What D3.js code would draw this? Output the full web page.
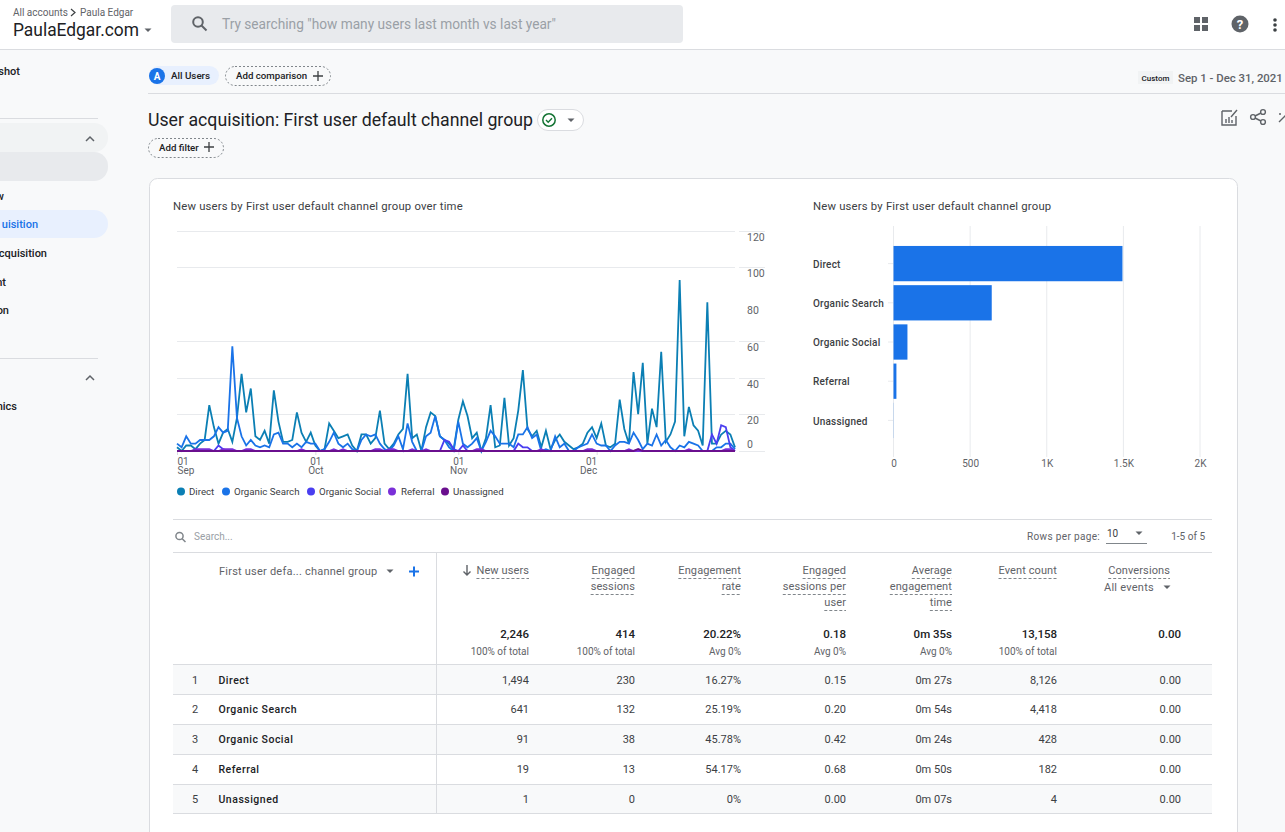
<!DOCTYPE html>
<html>
<head>
<meta charset="utf-8">
<title>User acquisition</title>
<script src="https://cdn.jsdelivr.net/npm/d3@7"></script>
<style>
html, body { margin: 0; padding: 0; background: #f8f9fa; overflow: hidden; }
text { font-family: Roboto, sans-serif; }
</style>
</head>
<body>
<div id="page"></div>
<script>
var direct = [2, 0, 3, 3, 1, 4, 6, 25, 13, 4, 10, 12, 5, 18, 42, 21, 34, 8, 6, 11,
    4, 33, 16, 5, 5, 6, 21, 10, 5, 10, 3, 0, 1, 15, 11, 7, 8, 9, 3, 0,
    9, 9, 4, 7, 22, 4, 1, 4, 9, 12, 42, 7, 9, 0, 13, 21, 19, 8, 6, 4,
    1, 17, 27, 19, 7, 10, 0, 7, 25, 2, 3, 29, 3, 7, 22, 44, 12, 8, 11, 2,
    11, 1, 6, 9, 5, 3, 1, 2, 4, 10, 13, 7, 15, 3, 2, 4, 28, 12, 4, 43,
    20, 48, 4, 23, 13, 54, 5, 9, 16, 93, 8, 24, 14, 11, 3, 81, 4, 4, 9, 11,
    9, 2];
var organicSearch = [4, 2, 8, 4, 4, 6, 6, 6, 8, 13, 10, 11, 57, 18, 8, 3, 6, 3, 2, 3,
    2, 9, 10, 4, 4, 2, 4, 2, 5, 4, 4, 0, 1, 5, 10, 4, 2, 4, 1, 0,
    6, 9, 8, 9, 4, 1, 0, 3, 8, 1, 15, 5, 0, 0, 8, 10, 19, 8, 6, 2,
    0, 16, 4, 2, 4, 7, 0, 5, 11, 8, 4, 4, 4, 2, 9, 9, 13, 7, 9, 0,
    1, 0, 8, 2, 4, 0, 0, 2, 3, 4, 9, 4, 3, 3, 0, 3, 5, 5, 4, 10,
    6, 1, 4, 3, 9, 3, 6, 2, 0, 3, 2, 5, 4, 3, 0, 0, 0, 2, 2, 4,
    4, 1];
var organicSocial = [0, 0, 0, 0, 0, 0, 0, 0, 0, 3, 1, 0, 0, 0, 0, 0, 0, 0, 0, 0,
    0, 0, 0, 0, 0, 0, 0, 0, 0, 0, 0, 0, 0, 0, 0, 0, 0, 0, 0, 0,
    0, 0, 0, 0, 0, 0, 0, 0, 0, 0, 0, 0, 0, 0, 0, 0, 0, 0, 6, 5,
    1, 0, 3, 0, 0, 0, 0, 0, 0, 0, 0, 0, 0, 0, 4, 2, 2, 0, 0, 0,
    0, 0, 0, 0, 0, 0, 0, 0, 0, 0, 0, 0, 0, 0, 0, 0, 0, 0, 0, 0,
    0, 0, 0, 0, 0, 0, 0, 0, 0, 0, 0, 0, 0, 0, 0, 0, 9, 4, 14, 13,
    2, 0];
var referral = [0, 0, 0, 0, 1, 1, 1, 1, 0, 0, 1, 1, 1, 0, 0, 1, 1, 0, 0, 0,
    0, 0, 0, 0, 0, 0, 0, 1, 0, 0, 0, 0, 0, 0, 1, 0, 1, 0, 0, 0,
    0, 0, 0, 1, 1, 0, 1, 1, 0, 0, 0, 1, 0, 0, 1, 0, 0, 0, 0, 0,
    0, 0, 0, 0, 0, 1, 1, 0, 0, 0, 0, 0, 0, 0, 0, 0, 0, 0, 0, 1,
    0, 0, 0, 0, 0, 0, 0, 0, 0, 1, 1, 0, 0, 0, 0, 0, 0, 0, 1, 0,
    0, 0, 0, 0, 0, 0, 0, 0, 0, 0, 0, 1, 0, 0, 0, 0, 0, 0, 0, 1,
    1, 0];
var unassigned = direct.map(function() { return 0; });
unassigned[100] = 1;

var channels = ["Direct", "Organic Search", "Organic Social", "Referral", "Unassigned"];
var channelColors = ["#0b7fb4", "#1a73e8", "#4a3ef0", "#7a2fd8", "#6a0f8e"];
var seriesValues = [direct, organicSearch, organicSocial, referral, unassigned];
var barValues = [1494, 641, 91, 19, 1];

var lineTicks = [0, 20, 40, 60, 80, 100, 120];
var lineGridTicks = [0, 20, 40, 60, 100, 120];
var barTicks = [0, 500, 1000, 1500, 2000];
var barTickLabels = ["0", "500", "1K", "1.5K", "2K"];
var monthTicks = [new Date(Date.UTC(2021, 8, 1)), new Date(Date.UTC(2021, 9, 1)),
    new Date(Date.UTC(2021, 10, 1)), new Date(Date.UTC(2021, 11, 1))];
var monthLabels = ["Sep", "Oct", "Nov", "Dec"];

var columnHeaders = [["New users"], ["Engaged", "sessions"], ["Engagement", "rate"],
    ["Engaged", "sessions per", "user"], ["Average", "engagement", "time"], ["Event count"], ["Conversions"]];
var totals = ["2,246", "414", "20.22%", "0.18", "0m 35s", "13,158", "0.00"];
var totalNotes = ["100% of total", "100% of total", "Avg 0%", "Avg 0%", "Avg 0%", "100% of total", ""];
var tableRows = [
    ["1,494", "230", "16.27%", "0.15", "0m 27s", "8,126", "0.00"],
    ["641", "132", "25.19%", "0.20", "0m 54s", "4,418", "0.00"],
    ["91", "38", "45.78%", "0.42", "0m 24s", "428", "0.00"],
    ["19", "13", "54.17%", "0.68", "0m 50s", "182", "0.00"],
    ["1", "0", "0%", "0.00", "0m 07s", "4", "0.00"]
];
var columnRight = [529, 635, 741, 846, 952, 1057, 1181];
var rowLines = [664, 694, 724, 754, 784, 813];

var svg = d3.select("#page")
    .append("svg")
    .attr("width", 1285)
    .attr("height", 832)
    .style("display", "block");

function rect(x, y, w, h, fill, rx) {
    return svg.append("rect")
        .attr("x", x).attr("y", y)
        .attr("width", w).attr("height", h)
        .attr("rx", rx || 0)
        .attr("fill", fill);
}

function hline(x1, x2, y, color) {
    return svg.append("line")
        .attr("x1", x1).attr("x2", x2)
        .attr("y1", y).attr("y2", y)
        .attr("stroke", color);
}

function label(x, y, s, size, color, anchor, weight) {
    return svg.append("text")
        .attr("x", x).attr("y", y)
        .attr("text-anchor", anchor || "start")
        .attr("font-size", size)
        .attr("font-weight", weight || 400)
        .attr("fill", color)
        .text(s);
}

function icon(d, color, width, fill) {
    return svg.append("path")
        .attr("d", d)
        .attr("fill", fill || "none")
        .attr("stroke", color)
        .attr("stroke-width", width);
}

function chip(x, y, w, h) {
    return rect(x + 0.5, y + 0.5, w, h, "none", h / 2)
        .attr("stroke", "#80868b")
        .attr("stroke-dasharray", "2,2");
}

function caret(x, y, color) {
    icon("M" + (x - 3.5) + " " + (y - 1.5) + "h7l-3.5 3.5z", "none", 0, color);
}

// top bar
rect(0, 0, 1285, 49, "#ffffff");
hline(0, 1285, 49.5, "#dadce0");
label(13, 16, "All accounts", 10, "#5f6368");
icon("M71 9l4 3.5-4 3.5", "#3c4043", 1.2);
label(80, 16, "Paula Edgar", 10, "#5f6368");
label(13, 36, "PaulaEdgar.com", 18.5, "#202124")
    .attr("textLength", 126).attr("lengthAdjust", "spacingAndGlyphs");
caret(148, 30, "#5f6368");
rect(171, 5, 512, 38, "#e8eaed", 4);
svg.append("circle").attr("cx", 198).attr("cy", 22).attr("r", 4.8)
    .attr("fill", "none").attr("stroke", "#5f6368").attr("stroke-width", 2);
icon("M201.5 25.5l5 5", "#5f6368", 2);
label(222, 29, "Try searching \"how many users last month vs last year\"", 14, "#9aa0a6")
    .attr("textLength", 334).attr("lengthAdjust", "spacingAndGlyphs");
rect(1194, 17, 6, 6, "#5f6368");
rect(1202, 17, 6, 6, "#5f6368");
rect(1194, 25, 6, 6, "#5f6368");
rect(1202, 25, 6, 6, "#5f6368");
svg.append("circle").attr("cx", 1240).attr("cy", 24).attr("r", 8.5).attr("fill", "#5f6368");
label(1240, 29, "?", 13, "#ffffff", "middle", 700);
[20, 25, 30].forEach(function(y) {
    svg.append("circle").attr("cx", 1275).attr("cy", y).attr("r", 1.8).attr("fill", "#3c4043");
});

// side navigation
hline(0, 98, 118.5, "#dadce0");
hline(0, 98, 358.5, "#dadce0");
rect(-20, 123, 128, 29, "#f1f3f4", 14);
rect(-20, 152, 128, 29, "#e8eaed", 14);
rect(-20, 210, 128, 28, "#e8f0fe", 14);
icon("M86 141l4-4 4 4", "#5f6368", 1.5);
icon("M86 380l4-4 4 4", "#5f6368", 1.5);
label(20, 75, "shot", 11, "#202124", "end", 500);
label(4, 200, "w", 11, "#202124", "end", 500);
label(38, 228, "uisition", 11, "#1a73e8", "end", 500);
label(47, 257, "cquisition", 11, "#202124", "end", 500);
label(6, 286, "nt", 11, "#202124", "end", 500);
label(9, 314, "on", 11, "#202124", "end", 500);
label(17, 410, "nics", 11, "#202124", "end", 500);

// filter strip
rect(149, 66, 70, 19, "#e8f0fe", 9.5);
svg.append("circle").attr("cx", 157).attr("cy", 76).attr("r", 8).attr("fill", "#1a73e8");
label(157, 80, "A", 10, "#ffffff", "middle", 700);
label(171, 79, "All Users", 9.8, "#202124", "start", 500);
chip(225, 66, 105, 19);
label(236, 79, "Add comparison", 9.7, "#202124", "start", 500);
icon("M313 76h10M318 71v10", "#3c4043", 1.3);
hline(148, 1285, 93.5, "#dadce0");
rect(1138, 71, 35, 13, "#f1f3f4");
label(1155.5, 81, "Custom", 8, "#202124", "middle", 500);
label(1178, 82, "Sep 1 - Dec 31, 2021", 11.4, "#5f6368", "start", 500);

// title row
label(148, 126, "User acquisition: First user default channel group", 18.5, "#202124")
    .attr("textLength", 385).attr("lengthAdjust", "spacingAndGlyphs");
rect(537.5, 109.5, 46, 21, "#ffffff", 10.5).attr("stroke", "#dadce0");
svg.append("circle").attr("cx", 549).attr("cy", 120).attr("r", 6.2)
    .attr("fill", "none").attr("stroke", "#137333").attr("stroke-width", 1.5);
icon("M546 120l2.2 2.2 3.8-4", "#137333", 1.4);
caret(571, 120, "#5f6368");
chip(148, 138, 75, 19);
label(159, 151, "Add filter", 9.7, "#202124", "start", 500);
icon("M204 147h10M209 142v10", "#3c4043", 1.3);
icon("M1222 111h10M1222 111v14h14v-9M1226 123v-4M1229 123v-6M1232 123v-3M1231 117l6-7", "#5f6368", 1.4);
svg.append("g").selectAll("circle").data([[1253, 117], [1263, 112], [1263, 122]]).enter()
    .append("circle")
    .attr("cx", function(d) { return d[0]; })
    .attr("cy", function(d) { return d[1]; })
    .attr("r", 2.4).attr("fill", "none").attr("stroke", "#5f6368").attr("stroke-width", 1.4);
icon("M1255 116l6-3M1255 118l6 3", "#5f6368", 1.4);
icon("M1279 122l7-7M1279 114h2", "#5f6368", 1.4);

// card
rect(149.5, 178.5, 1088, 680, "#ffffff", 8).attr("stroke", "#dadce0");

// line chart
label(173, 210, "New users by First user default channel group over time", 11.3, "#3c4043")
    .attr("letter-spacing", "0.2px");

var x = d3.scaleUtc()
    .domain([new Date(Date.UTC(2021, 8, 1)), new Date(Date.UTC(2021, 11, 31))])
    .range([177, 735]);
var y = d3.scaleLinear().domain([0, 120]).range([451, 230.5]);

var grid = svg.append("g");
lineGridTicks.forEach(function(t) {
    var yy = Math.round(y(t)) + 0.5;
    grid.append("line").attr("x1", 177).attr("x2", 735).attr("y1", yy).attr("y2", yy).attr("stroke", "#e8eaed");
    grid.append("line").attr("x1", 739).attr("x2", 765).attr("y1", yy).attr("y2", yy).attr("stroke", "#e8eaed");
});

var yAxis = svg.append("g")
    .attr("transform", "translate(747,0)")
    .call(d3.axisRight(y).tickValues(lineTicks).tickSize(0).tickPadding(0));
yAxis.select(".domain").remove();
yAxis.selectAll("text")
    .attr("font-size", 10.5)
    .attr("font-family", "Roboto, sans-serif")
    .attr("fill", "#5f6368")
    .attr("dy", function(d) { return d === 0 ? "-3.5px" : "9.5px"; });

var xAxis = svg.append("g")
    .attr("transform", "translate(0,451)")
    .call(d3.axisBottom(x).tickValues(monthTicks).tickSize(4).tickFormat(function() { return "01"; }));
xAxis.select(".domain").remove();
xAxis.selectAll("line").attr("stroke", "#dadce0");
var monthAnchors = ["start", "middle", "middle", "end"];
xAxis.selectAll("text")
    .attr("font-size", 10)
    .attr("font-family", "Roboto, sans-serif")
    .attr("fill", "#5f6368")
    .attr("y", 6.5)
    .attr("text-anchor", function(d, i) { return monthAnchors[i]; })
    .each(function(d, i) {
        d3.select(this).append("tspan")
            .attr("x", 0)
            .attr("dy", "0.95em")
            .text(monthLabels[i]);
    });

var line = d3.line()
    .x(function(d, i) { return x(d3.utcDay.offset(monthTicks[0], i)); })
    .y(function(d) { return y(d); });

svg.append("g").selectAll("path")
    .data(seriesValues)
    .enter().append("path")
    .attr("d", line)
    .attr("fill", "none")
    .attr("stroke", function(d, i) { return channelColors[i]; })
    .attr("stroke-width", function(d, i) { return i == 4 ? 2 : 1.8; })
    .attr("stroke-linejoin", "miter");

var legendX = [181, 226, 311, 392, 445];
var legendRow = svg.selectAll(".legendRow")
    .data(channels)
    .enter().append("g")
    .attr("class", "legendRow");
legendRow.append("circle")
    .attr("cx", function(d, i) { return legendX[i]; })
    .attr("cy", 491.5)
    .attr("r", 4)
    .attr("fill", function(d, i) { return channelColors[i]; });
legendRow.append("text")
    .attr("x", function(d, i) { return legendX[i] + (i == 3 ? 9 : 8); })
    .attr("y", 495)
    .attr("font-size", 9.7)
    .attr("fill", "#3c4043")
    .text(function(d) { return d; });

// bar chart
label(813, 210, "New users by First user default channel group", 11.3, "#3c4043")
    .attr("letter-spacing", "0.2px");

var barX = d3.scaleLinear().domain([0, 2000]).range([893.5, 1200]);
var barY = d3.scaleBand().domain(channels).range([244, 440]).paddingInner(0.1).paddingOuter(0.05);

barTicks.forEach(function(t) {
    svg.append("line")
        .attr("x1", barX(t)).attr("x2", barX(t))
        .attr("y1", 226).attr("y2", 457)
        .attr("stroke", "#e8eaed");
});

var barBottom = svg.append("g")
    .attr("transform", "translate(0,457)")
    .call(d3.axisBottom(barX).tickValues(barTicks).tickSize(0).tickPadding(0)
        .tickFormat(function(d, i) { return barTickLabels[i]; }));
barBottom.select(".domain").remove();
barBottom.selectAll("text")
    .attr("font-size", 10)
    .attr("font-family", "Roboto, sans-serif")
    .attr("fill", "#5f6368")
    .attr("y", 3);

svg.append("g").selectAll("rect")
    .data(barValues)
    .enter().append("rect")
    .attr("x", barX(0))
    .attr("y", function(d, i) { return barY(channels[i]); })
    .attr("width", function(d) { return barX(d) - barX(0); })
    .attr("height", barY.bandwidth())
    .attr("fill", "#1a73e8");

var barLeft = svg.append("g")
    .attr("transform", "translate(893,0)")
    .call(d3.axisLeft(barY).tickSize(5).tickPadding(0));
barLeft.select(".domain").remove();
barLeft.selectAll("line").attr("stroke", "#e8eaed");
barLeft.selectAll("text")
    .attr("x", -80)
    .attr("dy", "0.42em")
    .attr("text-anchor", "start")
    .attr("font-size", 10)
    .attr("font-family", "Roboto, sans-serif")
    .attr("font-weight", 500)
    .attr("fill", "#3c4043")
    .attr("letter-spacing", "0.2px");

// table toolbar
hline(173, 1212, 519.5, "#dadce0");
svg.append("circle").attr("cx", 179.5).attr("cy", 536).attr("r", 3.6)
    .attr("fill", "none").attr("stroke", "#80868b").attr("stroke-width", 1.5);
icon("M182 538.5l3.5 3.5", "#80868b", 1.5);
label(194, 540, "Search...", 10, "#9aa0a6");
label(1027, 540, "Rows per page:", 10, "#5f6368").attr("letter-spacing", "0.35px");
label(1107, 537, "10", 10, "#3c4043");
caret(1139, 533, "#5f6368");
hline(1106, 1147, 543.5, "#80868b");
label(1205, 540, "1-5 of 5", 10, "#5f6368", "end");
hline(173, 1212, 552.5, "#dadce0");

// table header
label(219, 575, "First user defa... channel group", 11, "#5f6368").attr("letter-spacing", "0.22px");
caret(390, 571, "#5f6368");
icon("M409 571.5h10M414 566.5v10", "#1a73e8", 2);
icon("M467 565v10M463.5 571.5l3.5 3.5 3.5-3.5", "#5f6368", 1.4);

columnHeaders.forEach(function(lines, c) {
    var right = c == 6 ? 1170 : columnRight[c];
    lines.forEach(function(s, i) {
        var t = label(right, 574 + i * 16, s, 11, "#5f6368", "end").attr("letter-spacing", "0.1px");
        var w = t.node().getComputedTextLength();
        hline(right - w, right, 578.5 + i * 16, "#80868b").attr("stroke-dasharray", "3,2");
    });
});
label(1104, 591, "All events", 11, "#5f6368").attr("letter-spacing", "0.25px");
caret(1167, 587, "#5f6368");

totals.forEach(function(s, c) {
    label(columnRight[c], 638, s, 11.5, "#202124", "end", 500);
    label(columnRight[c], 655, totalNotes[c], 10, "#5f6368", "end");
});

// table rows
tableRows.forEach(function(row, r) {
    if (r % 2 == 0) {
        rect(173, rowLines[r], 1039, rowLines[r + 1] - rowLines[r], "#f8f9fa");
    }
    var yy = rowLines[r] + (r == 0 ? 20 : 19);
    label(195, yy, r + 1, 11, "#3c4043", "middle");
    label(218.5, yy, channels[r], 10.5, "#202124", "start", 500).attr("letter-spacing", "0.5px");
    row.forEach(function(s, c) {
        label(columnRight[c], yy, s, 11, "#3c4043", "end");
    });
});
rowLines.forEach(function(yy) {
    hline(173, 1212, yy + 0.5, "#dadce0");
});
svg.append("line")
    .attr("x1", 436.5).attr("x2", 436.5)
    .attr("y1", 552).attr("y2", 813)
    .attr("stroke", "#dadce0");
</script>
</body>
</html>
